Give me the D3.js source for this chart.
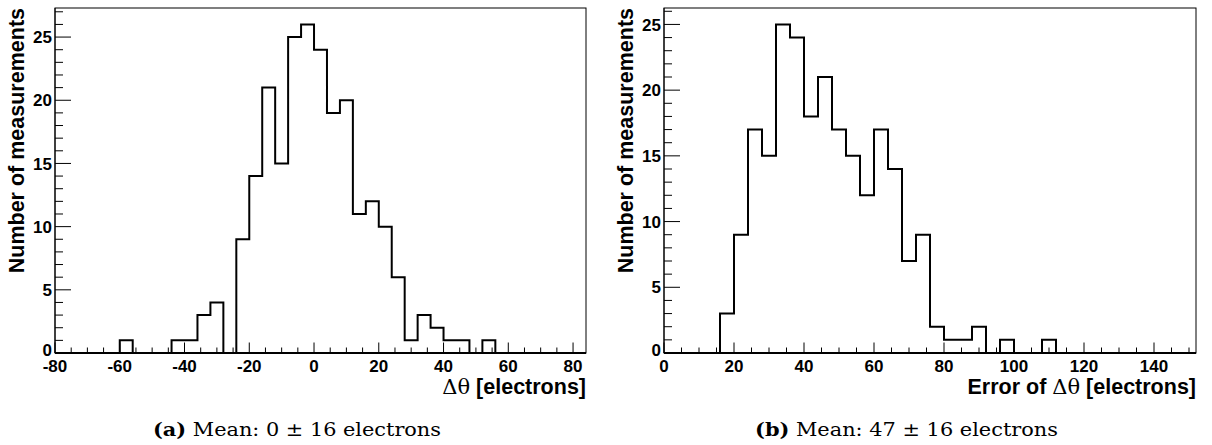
<!DOCTYPE html>
<html><head><meta charset="utf-8">
<script src="https://cdn.jsdelivr.net/npm/d3@7"></script>
<style>
html,body{margin:0;padding:0;background:#fff;}
svg{display:block;}
.tick-lbl{font-family:"Liberation Sans",Arial,sans-serif;font-weight:bold;font-size:17px;fill:#000;}
.title{font-family:"Liberation Sans",Arial,sans-serif;font-weight:bold;font-size:21.5px;fill:#000;}
.sym{font-family:"DejaVu Serif",serif;font-weight:normal;font-size:21px;}
.cap{font-family:"DejaVu Serif",serif;font-size:19px;fill:#000;}
</style></head>
<body>
<svg id="chart" width="1212" height="445"></svg>
<script>
// ---- data ----
const binWidth = 4;
// Left histogram: Δθ, bins of width 4 starting at -80
const leftXmin = -80, leftXmax = 84;
const leftCounts = [0,0,0,0,0,1,0,0,0,1,1,3,4,0,9,14,21,15,25,26,24,19,20,11,12,10,6,1,3,2,1,1,0,1,0,0,0,0,0,0,0];
const leftXTicks = [-80,-60,-40,-20,0,20,40,60,80];
const leftYTicks = [0,5,10,15,20,25];
// Right histogram: error of Δθ, bins of width 4 starting at 0
const rightXmin = 0, rightXmax = 152;
const rightCounts = [0,0,0,0,3,9,17,15,25,24,18,21,17,15,12,17,14,7,9,2,1,1,2,0,1,0,0,1,0,0,0,0,0,0,0,0,0,0];
const rightXTicks = [0,20,40,60,80,100,120,140];
const rightYTicks = [0,5,10,15,20,25];
const yTitle = "Number of measurements";
const leftXTitle = ["", "Δθ", " [electrons]"];
const rightXTitle = ["Error of ", "Δθ", " [electrons]"];
const captions = [["(a)", " Mean: 0 ± 16 electrons"], ["(b)", " Mean: 47 ± 16 electrons"]];

const svg = d3.select("#chart");

function drawPanel(cfg){
  const g = svg.append("g");
  const x = d3.scaleLinear().domain([cfg.xmin, cfg.xmax]).range([cfg.left, cfg.right]);
  const ymax = d3.max(cfg.counts) * 1.05;
  const y = d3.scaleLinear().domain([0, ymax]).range([cfg.bottom, cfg.top]);

  // frame
  g.append("rect").attr("x", cfg.left).attr("y", cfg.top)
    .attr("width", cfg.right - cfg.left).attr("height", cfg.bottom - cfg.top)
    .attr("fill", "none").attr("stroke", "#000").attr("stroke-width", 1);

  // histogram step outline
  const pts = [[x(cfg.xmin), y(0)]];
  cfg.counts.forEach((c, i) => {
    const x0 = cfg.xmin + i * binWidth, x1 = x0 + binWidth;
    pts.push([x(x0), y(c)]); pts.push([x(Math.min(x1, cfg.xmax)), y(c)]);
  });
  pts.push([x(cfg.xmax), y(0)]);
  g.append("path").attr("d", d3.line()(pts)).attr("fill", "none")
    .attr("stroke", "#000").attr("stroke-width", 2).attr("stroke-linejoin", "miter");

  // x axis
  const xMinor = d3.range(cfg.xmin, cfg.xmax + 0.001, 5);
  g.append("line").attr("x1", cfg.left).attr("x2", cfg.right).attr("y1", cfg.bottom).attr("y2", cfg.bottom)
    .attr("stroke", "#000").attr("stroke-width", 2);
  g.selectAll(null).data(xMinor).join("line")
    .attr("x1", d => x(d)).attr("x2", d => x(d))
    .attr("y1", cfg.bottom).attr("y2", d => cfg.bottom - (d % 20 === 0 ? 10.5 : 5.5))
    .attr("stroke", "#000").attr("stroke-width", 1);
  g.selectAll(null).data(cfg.xTicks).join("text").attr("class", "tick-lbl")
    .attr("x", d => x(d)).attr("y", cfg.bottom + 19).attr("text-anchor", "middle").text(d => d);

  // y axis
  const yMinor = d3.range(0, Math.floor(ymax) + 1, 1);
  g.append("line").attr("x1", cfg.left).attr("x2", cfg.left).attr("y1", cfg.bottom).attr("y2", cfg.top)
    .attr("stroke", "#000").attr("stroke-width", 1);
  g.selectAll(null).data(yMinor).join("line")
    .attr("x1", cfg.left).attr("x2", d => cfg.left + (d % 5 === 0 ? 16 : 8))
    .attr("y1", d => y(d)).attr("y2", d => y(d))
    .attr("stroke", "#000").attr("stroke-width", 1);
  g.selectAll(null).data(cfg.yTicks).join("text").attr("class", "tick-lbl")
    .attr("x", cfg.left - 3).attr("y", d => y(d) - (d === 0 ? 3.5 : 0)).attr("dy", "0.36em")
    .attr("text-anchor", "end").text(d => d);

  // titles
  g.append("text").attr("class", "title").attr("text-anchor", "end")
    .attr("transform", `translate(${cfg.ytx},${cfg.top}) rotate(-90)`).text(yTitle);
  const xt = g.append("text").attr("class", "title").attr("text-anchor", "end")
    .attr("x", cfg.right).attr("y", cfg.bottom + 41);
  xt.append("tspan").text(cfg.xTitle[0]);
  xt.append("tspan").attr("class", "sym").text(cfg.xTitle[1]);
  xt.append("tspan").text(cfg.xTitle[2]);

  // caption
  const ct = svg.append("text").attr("class", "cap").attr("x", cfg.capX).attr("y", 436)
    .attr("textLength", cfg.capW).attr("lengthAdjust", "spacingAndGlyphs");
  ct.append("tspan").attr("font-weight", "bold").text(cfg.caption[0]);
  ct.append("tspan").text(cfg.caption[1]);
}

drawPanel({left:55, right:586, top:8, bottom:353, xmin:leftXmin, xmax:leftXmax, counts:leftCounts,
  xTicks:leftXTicks, yTicks:leftYTicks, ytx:24, xTitle:leftXTitle, capX:153, capW:288, caption:captions[0]});
drawPanel({left:664, right:1196, top:8, bottom:353, xmin:rightXmin, xmax:rightXmax, counts:rightCounts,
  xTicks:rightXTicks, yTicks:rightYTicks, ytx:633, xTitle:rightXTitle, capX:755, capW:303, caption:captions[1]});
</script>
</body></html>
